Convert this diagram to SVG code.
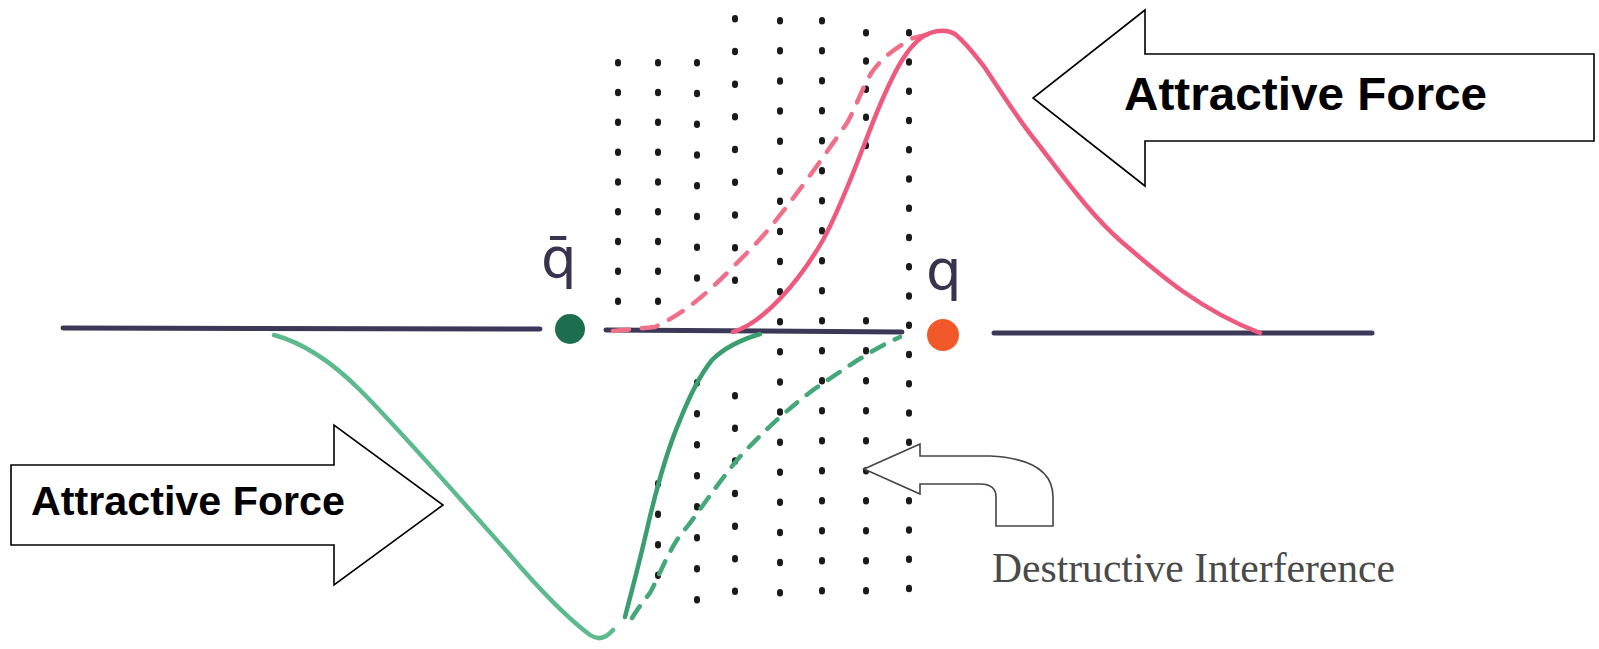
<svg xmlns="http://www.w3.org/2000/svg" width="1599" height="649" viewBox="0 0 1599 649">
<style>
.axis{stroke:#3c3858;stroke-width:5;stroke-linecap:round;fill:none}
.dots{stroke:#1a1a1a;stroke-width:6;stroke-linecap:round;fill:none}
.pink{stroke:#ee5a7e;stroke-width:4.5;fill:none;stroke-linecap:round;stroke-linejoin:round}
.pinkd{stroke:#f0708a;stroke-width:4.5;fill:none;stroke-linecap:round;stroke-dasharray:16 13}
.green{stroke:#3a9e6e;stroke-width:4.5;fill:none;stroke-linecap:round}
.greenl{stroke:#5cba8c;stroke-width:4.5;fill:none;stroke-linecap:round}
.greend{stroke:#45a878;stroke-width:4.5;fill:none;stroke-linecap:round;stroke-dasharray:14 12}
.big{stroke:#000;stroke-width:1.6;fill:#fff;stroke-linejoin:miter}
.bigt{font-family:"Liberation Sans",Arial,sans-serif;font-weight:bold;fill:#000}
.q{font-family:"DejaVu Sans","Liberation Sans",sans-serif;font-size:56px;fill:#3a3350}
</style>
<rect width="1599" height="649" fill="#fff"/>

<g id="dots-columns">
<line class="dots" x1="618" y1="62" x2="618" y2="330" stroke-dasharray="1.5 28.3"/>
<line class="dots" x1="658" y1="62" x2="658" y2="330" stroke-dasharray="1.5 28.3"/>
<line class="dots" x1="658" y1="483" x2="658" y2="605" stroke-dasharray="1.5 29"/>
<line class="dots" x1="697" y1="62" x2="697" y2="308" stroke-dasharray="1.5 29.25"/>
<line class="dots" x1="697" y1="382" x2="697" y2="630" stroke-dasharray="1.5 29.5"/>
<line class="dots" x1="735" y1="18" x2="735" y2="312" stroke-dasharray="1.5 31.2"/>
<line class="dots" x1="735" y1="395" x2="735" y2="623" stroke-dasharray="1.5 31.1"/>
<line class="dots" x1="780" y1="20" x2="780" y2="622" stroke-dasharray="1.5 28.6"/>
<line class="dots" x1="822" y1="20" x2="822" y2="620" stroke-dasharray="1.5 28.5"/>
<line class="dots" x1="866" y1="32" x2="866" y2="173" stroke-dasharray="1.5 26.7"/>
<line class="dots" x1="866" y1="320" x2="866" y2="620" stroke-dasharray="1.5 28.5"/>
<line class="dots" x1="909" y1="32" x2="909" y2="617" stroke-dasharray="1.5 27.75"/>
</g>

<g id="axis">
<line class="axis" x1="63" y1="328" x2="540" y2="329"/>
<line class="axis" x1="606" y1="330" x2="902" y2="332"/>
<line class="axis" x1="994" y1="333" x2="1372" y2="333"/>
</g>

<g id="curves">
<path class="pinkd" d="M613,331 L655,327 C690,310 710,290 733,267 C750,250 765,235 780,215 C800,190 825,155 847,123 C857,105 862,88 872,72 C882,58 895,48 913,38 L938,32"/>
<path class="pink" d="M733,332 C765,322 800,280 823,240 C845,200 865,140 880,105 C895,70 910,40 930,33 Q945,28 955,34 C968,45 975,55 985,68 C1000,90 1015,115 1035,140 C1060,172 1090,215 1123,243 C1160,275 1200,310 1260,333"/>
<path class="greenl" d="M274,335 C300,342 330,360 360,390 C400,430 470,510 510,555 C540,590 570,620 590,635 Q602,643 613,630"/>
<path class="green" d="M625,617 C632,590 640,560 648,525 C655,495 665,455 680,420 C690,395 700,375 712,360 C725,347 740,340 760,334"/>
<path class="greend" d="M632,618 Q640,605 650,593 C660,575 670,545 687,527 C700,510 713,490 737,460 C755,440 780,415 813,390 C840,372 870,350 900,337"/>
</g>

<g id="charge-qbar">
<circle cx="570" cy="329" r="15" fill="#1d6e4e"/>
<text class="q" x="541" y="277">q̄</text>
</g>

<g id="charge-q">
<circle cx="943" cy="335" r="16" fill="#f2592a"/>
<text class="q" x="926" y="289">q</text>
</g>

<g id="arrow-left">
<polygon class="big" points="11,465 334,465 334,425 443,505 334,585 334,545 11,545"/>
<text class="bigt" x="31" y="515" font-size="41" textLength="314" lengthAdjust="spacingAndGlyphs">Attractive Force</text>
</g>

<g id="arrow-right">
<polygon class="big" points="1594,54 1145,54 1145,10 1033,98 1145,186 1145,141 1594,141"/>
<text class="bigt" x="1124" y="110" font-size="47" textLength="363" lengthAdjust="spacingAndGlyphs">Attractive Force</text>
</g>

<g id="destructive">
<path d="M864,469 L920,444 L920,456 L990,456 C1030,458 1053,470 1053,497 L1053,526 L996,526 L996,497 C996,488 990,484 980,484 L920,484 L920,494 Z" fill="#fff" stroke="#444" stroke-width="1.6" stroke-linejoin="miter"/>
<text x="992" y="582" font-family="'Liberation Serif','Times New Roman',serif" font-size="42" fill="#4a4a4a" textLength="403" lengthAdjust="spacingAndGlyphs">Destructive Interference</text>
</g>
</svg>
